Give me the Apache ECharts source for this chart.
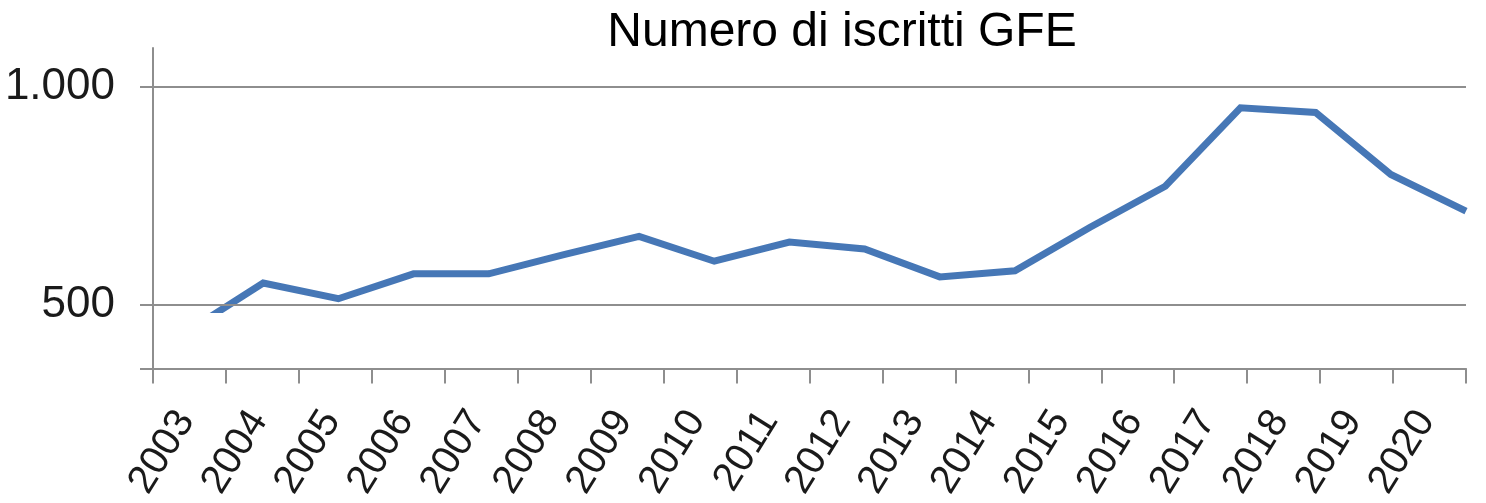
<!DOCTYPE html>
<html lang="it">
<head>
    <meta charset="UTF-8">
    <title>Numero di iscritti GFE</title>
    <script src="https://cdn.jsdelivr.net/npm/echarts@6/dist/echarts.min.js"></script>
    <style>
        html, body { margin: 0; padding: 0; background: #fff; }
        #chart { width: 1486px; height: 503px; }
    </style>
</head>
<body>
<div id="chart"></div>
<script>
    // dati
    var years = ['2003', '2004', '2005', '2006', '2007', '2008', '2009', '2010', '2011',
        '2012', '2013', '2014', '2015', '2016', '2017', '2018', '2019', '2020'];
    var iscritti = [440, 550, 514, 571, 571, 615, 657, 600, 644,
        628, 564, 578, 678, 772, 952, 941, 799, 715];
    var yLabels = [500, 1000];
    var yMin = 354;
    var yMax = 1089;
    var cutOff = 482; // sotto questo valore la linea non si vede nell'originale

    var grey = '#8e8e8e';
    var blue = '#4677b6';

    function fmt(v) {
        return String(v).replace(/\B(?=(\d{3})+(?!\d))/g, '.');
    }

    var chart = echarts.init(document.getElementById('chart'));
    chart.setOption({
        animation: false,
        title: {
            text: 'Numero di iscritti GFE',
            left: 837,
            top: 4,
            textAlign: 'center',
            textStyle: {
                fontFamily: 'Liberation Sans, Arial, sans-serif',
                fontSize: 48,
                fontWeight: 'normal',
                color: '#000'
            }
        },
        grid: { left: 153, right: 20, top: 48, bottom: 133 },
        xAxis: [
            {
                type: 'category',
                data: years,
                boundaryGap: true,
                axisLine: { lineStyle: { color: grey, width: 2 } },
                axisTick: { show: true, length: 15, lineStyle: { color: grey, width: 2 } },
                axisLabel: {
                    rotate: 58,
                    margin: 40,
                    interval: 0,
                    padding: [0, 7, 0, 0],
                    fontFamily: 'Liberation Sans, Arial, sans-serif',
                    fontSize: 40,
                    color: '#1a1a1a'
                }
            },
            {
                // scala nascosta per la posizione dei punti
                type: 'value',
                min: -0.466,
                max: years.length - 1,
                show: false
            }
        ],
        yAxis: {
            type: 'value',
            min: yMin,
            max: yMax,
            axisLine: { show: true, onZero: false, lineStyle: { color: grey, width: 2 } },
            axisTick: {
                show: true,
                length: 13,
                customValues: [yMin].concat(yLabels),
                lineStyle: { color: grey, width: 2 }
            },
            splitLine: { show: false },
            axisLabel: {
                customValues: yLabels,
                margin: 38,
                formatter: function (v) { return fmt(v); },
                fontFamily: 'Liberation Sans, Arial, sans-serif',
                fontSize: 44,
                color: '#1a1a1a'
            }
        },
        visualMap: {
            show: false,
            type: 'piecewise',
            seriesIndex: 0,
            dimension: 1,
            pieces: [
                { min: 0, max: cutOff, color: 'rgba(255,255,255,0)' },
                { min: cutOff, max: 2000, color: blue }
            ]
        },
        series: [{
            type: 'line',
            xAxisIndex: 1,
            data: iscritti.map(function (v, i) { return [i, v]; }),
            symbol: 'none',
            lineStyle: { width: 7, join: 'miter' },
            markLine: {
                silent: true,
                symbol: 'none',
                label: { show: false },
                lineStyle: { color: grey, width: 2, type: 'solid' },
                data: yLabels.map(function (v) { return { yAxis: v }; })
            }
        }]
    });
</script>
</body>
</html>
